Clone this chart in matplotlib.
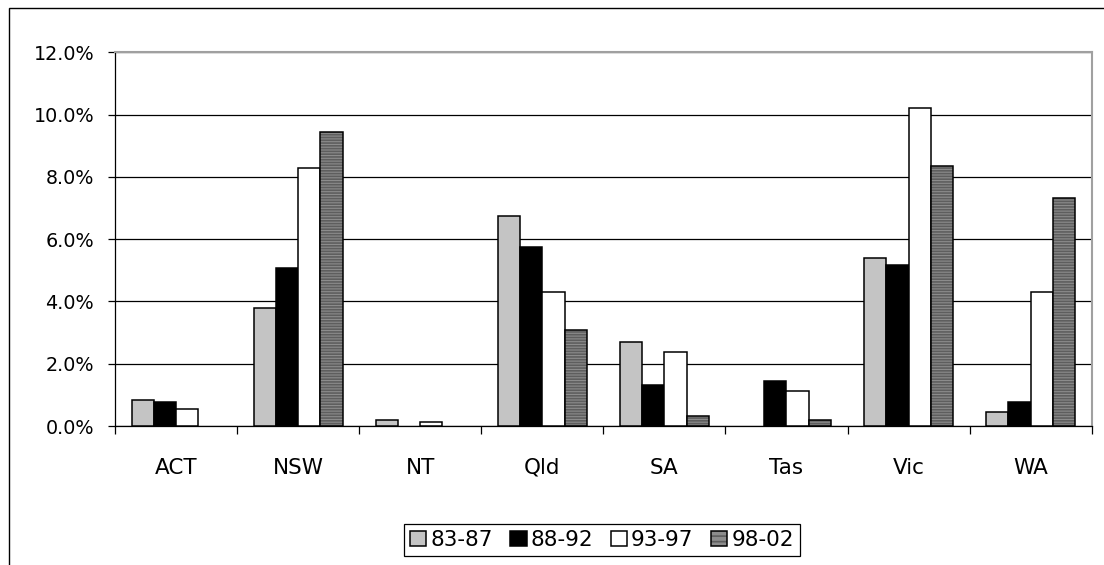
import numpy as np
import matplotlib
matplotlib.use("Agg")
import matplotlib.pyplot as plt
from matplotlib.patches import Rectangle, Patch
from matplotlib.ticker import FuncFormatter, FixedLocator

states = ["ACT", "NSW", "NT", "Qld", "SA", "Tas", "Vic", "WA"]
periods = ["83-87", "88-92", "93-97", "98-02"]

share_83_87 = [0.83, 3.79, 0.19, 6.75, 2.70, 0.0, 5.39, 0.45]
share_88_92 = [0.78, 5.08, 0.0, 5.74, 1.31, 1.43, 5.16, 0.78]
share_93_97 = [0.54, 8.29, 0.14, 4.30, 2.38, 1.11, 10.20, 4.30]
share_98_02 = [0.0, 9.44, 0.0, 3.08, 0.32, 0.20, 8.35, 7.33]

series = [share_83_87, share_88_92, share_93_97, share_98_02]
fills = ["#c4c4c4", "#000000", "#ffffff", "#8c8c8c"]
hatches = [None, None, None, "------"]

plt.rcParams["font.family"] = ["DejaVu Sans"]
plt.rcParams["font.size"] = 13.8
plt.rcParams["hatch.linewidth"] = 1.2

fig = plt.figure(figsize=(11.04, 5.65), dpi=100)
ax = fig.add_axes([115 / 1104, 1 - 426 / 565, (1091.7 - 115) / 1104, (426 - 52.3) / 565])

x = np.arange(len(states))
w = 1 / 5.5
handles = []
for i, (vals, fc, h) in enumerate(zip(series, fills, hatches)):
    vals = np.array(vals) / 100
    pos = x + (i - 1.5) * w
    # empty periods are left out so no outline sits on the axis
    keep = vals > 0
    pos, vals = pos[keep], vals[keep]
    if h:
        ax.bar(pos, vals, w, color=fc, hatch=h, edgecolor="#5e5e5e", linewidth=0, zorder=3)
        ax.bar(pos, vals, w, fill=False, edgecolor="black", linewidth=1.1, zorder=4)
        handles.append((Patch(facecolor=fc, hatch="---", edgecolor="#5e5e5e", linewidth=0),
                        Patch(fill=False, edgecolor="black", linewidth=1.1)))
    else:
        ax.bar(pos, vals, w, color=fc, edgecolor="black", linewidth=1.1, zorder=3)
        handles.append(Patch(facecolor=fc, edgecolor="black", linewidth=1.1))

ax.set_xlim(-0.5, len(states) - 0.5)
ax.set_ylim(0, 0.12)
ax.set_yticks(np.arange(0, 0.121, 0.02))
ax.yaxis.set_major_formatter(FuncFormatter(lambda v, _: f"{v * 100:.1f}%"))
ax.yaxis.grid(True, color="black", linewidth=0.9, zorder=0)

ax.set_xticks(x)
ax.set_xticklabels(states, fontsize=15.5)
ax.xaxis.set_minor_locator(FixedLocator(np.arange(-0.5, len(states), 1)))
ax.tick_params(axis="x", which="major", length=0, pad=23)
ax.tick_params(axis="x", which="minor", length=6, width=0.9, color="black")
ax.tick_params(axis="y", length=5, width=0.9, pad=10)

for side in ["left", "bottom"]:
    ax.spines[side].set_color("black")
    ax.spines[side].set_linewidth(0.9)
for side in ["top", "right"]:
    ax.spines[side].set_color("#a0a0a0")
    ax.spines[side].set_linewidth(1.5)

leg = fig.legend(handles, periods, loc="center", bbox_to_anchor=(602 / 1104, 1 - 540 / 565),
                 ncol=4, fontsize=15.5, handlelength=0.75, handleheight=0.75, handletextpad=0.2,
                 columnspacing=0.8, borderpad=0.3, fancybox=False, framealpha=1)
leg.get_frame().set_edgecolor("black")
leg.get_frame().set_linewidth(0.9)

# outer chart border, cut off on the right and bottom
fig.patches.append(Rectangle((9 / 1104, -0.1), 1.2, 1.1 - 8 / 565, transform=fig.transFigure,
                             fill=False, edgecolor="black", linewidth=1.0))

fig.savefig("out.png", dpi=100)
